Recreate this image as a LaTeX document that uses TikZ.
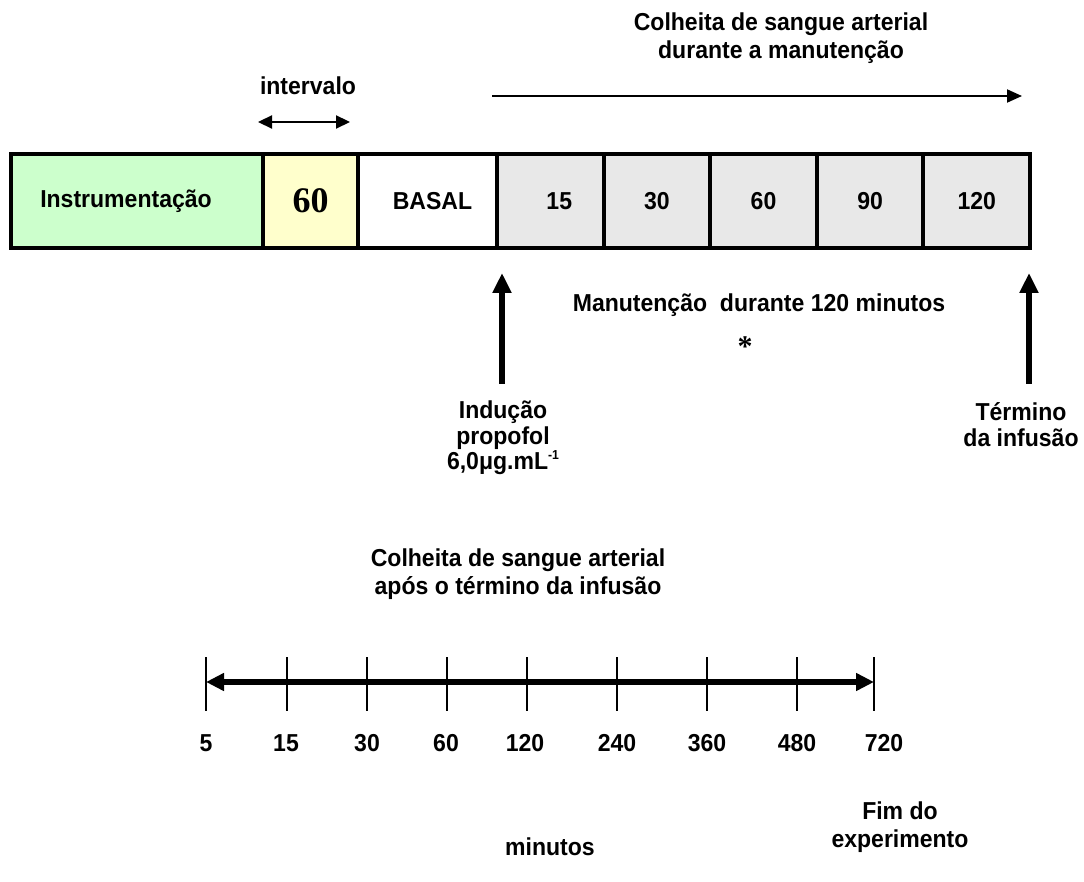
\documentclass[tikz,border=0pt]{standalone}
\usepackage{fontspec}
\setmainfont{Liberation Sans}[FakeStretch=0.94]
\newfontfamily\serifb{Liberation Serif}
\usetikzlibrary{arrows.meta}
\definecolor{cgreen}{HTML}{CCFFCC}
\definecolor{cyellow}{HTML}{FFFFCC}
\definecolor{cgray}{HTML}{E8E8E8}
\begin{document}
\begin{tikzpicture}[x=1pt,y=-1pt,
  every node/.style={font=\fontsize{24.5}{27.5}\selectfont\bfseries, inner sep=0pt, align=center},
  cell/.style={draw, line width=4pt, minimum height=94pt, anchor=center},
  thinarrow/.style={line width=2pt, -{Triangle[length=15pt,width=13pt]}},
  thinboth/.style={line width=2.2pt, {Triangle[length=14pt,width=13pt]}-{Triangle[length=14pt,width=13pt]}},
  uparrow/.style={line width=6pt, -{Triangle[length=20pt,width=18pt]}},
  bigboth/.style={line width=6pt, {Triangle[length=18pt,width=17pt]}-{Triangle[length=18pt,width=17pt]}},
  tickline/.style={line width=1.5pt},
  numlbl/.style={anchor=center}
]
\useasboundingbox (0,0) rectangle (1084,882);

% top title and arrows
\node (title1) at (781,38) {Colheita de sangue arterial\\durante a manutenção};
\node (interv) at (308,86) {intervalo};
\coordinate (ia) at (258,122);
\coordinate (ib) at (350,122);
\draw[thinboth] (ia) -- (ib);
\coordinate (la) at (492,96);
\coordinate (lb) at (1022,96);
\draw[thinarrow] (la) -- (lb);

% box row
\node[cell, fill=cgreen, minimum width=252pt] (b1) at (137,201) {\hspace*{-22pt}Instrumentação};
\node[cell, fill=cyellow, minimum width=95pt] (b2) at (310.5,201) {\serifb\bfseries\fontsize{36}{36}\selectfont 60};
\node[cell, fill=white, minimum width=139pt] (b3) at (427.5,201) {\hspace*{10pt}BASAL};
\node[cell, fill=cgray, minimum width=106.6pt] (b4) at (550.3,201) {\hspace*{18pt}15};
\node[cell, fill=cgray, minimum width=106.6pt] (b5) at (656.9,201) {30};
\node[cell, fill=cgray, minimum width=106.6pt] (b6) at (763.5,201) {60};
\node[cell, fill=cgray, minimum width=106.6pt] (b7) at (870.1,201) {90};
\node[cell, fill=cgray, minimum width=106.6pt] (b8) at (976.7,201) {120};

% maintenance label
\node (manut) at (759,305) {Manutenção\ \ durante 120 minutos};
\node[font=\serifb\bfseries\fontsize{30}{30}\selectfont, anchor=base] (ast) at (745,356) {*};

% up arrows
\coordinate (ua0) at (502,384);
\coordinate (ua1) at (502,273);
\draw[uparrow] (ua0) -- (ua1);
\coordinate (ub0) at (1029,384);
\coordinate (ub1) at (1029,273);
\draw[uparrow] (ub0) -- (ub1);

\node[font=\fontsize{24.5}{25.5}\selectfont\bfseries] (induc) at (503,438) {Indução\\propofol\\6,0μg.mL\raisebox{0.42em}{\fontsize{13}{13}\selectfont -1}};
\node[font=\fontsize{24.5}{26}\selectfont\bfseries] (termino) at (1021,425) {Término\\da infusão};

% bottom section
\node (title2) at (518,574) {Colheita de sangue arterial\\após o término da infusão};

\foreach \x/\n in {206/t1,287/t2,367/t3,447/t4,527/t5,617/t6,707/t7,797/t8,874/t9}{
  \coordinate (\n a) at (\x,657);
  \coordinate (\n b) at (\x,711);
  \draw[tickline] (\n a) -- (\n b);
}
\coordinate (ta) at (206,682);
\coordinate (tb) at (874,682);
\draw[bigboth] (ta) -- (tb);

\node[numlbl] (n1) at (206,743) {5};
\node[numlbl] (n2) at (286,743) {15};
\node[numlbl] (n3) at (367,743) {30};
\node[numlbl] (n4) at (446,743) {60};
\node[numlbl] (n5) at (525,743) {120};
\node[numlbl] (n6) at (617,743) {240};
\node[numlbl] (n7) at (707,743) {360};
\node[numlbl] (n8) at (797,743) {480};
\node[numlbl] (n9) at (884,743) {720};

\node (minutos) at (550,847) {minutos};
\node (fim) at (900,827) {Fim do\\experimento};
\end{tikzpicture}
\end{document}
